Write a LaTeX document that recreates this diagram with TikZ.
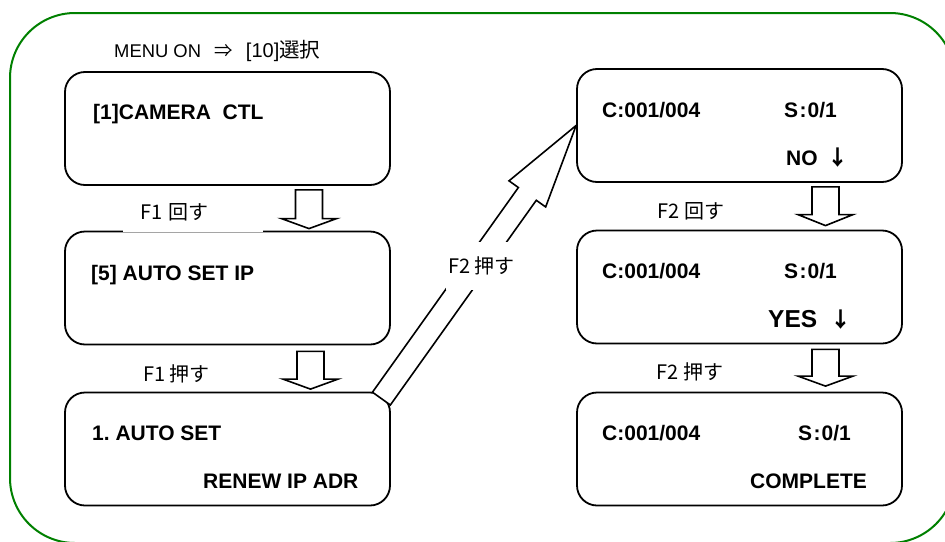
\documentclass[tikz,border=0pt]{standalone}
\usepackage{fontspec}
\setmainfont{Liberation Sans}
\newfontfamily\jpfont{Noto Sans CJK JP}
\usetikzlibrary{calc}
\frenchspacing
\definecolor{framegreen}{RGB}{0,128,0}
\tikzset{
  every picture/.append style={line cap=round,line join=round},
  lcd frame/.style={draw=framegreen,line width=2pt,rounded corners=65pt},
  lcd box/.style={draw,line width=1.8pt,rounded corners=20pt,minimum width=325pt,minimum height=113pt,inner sep=0pt},
  lcd text/.style={font=\fontsize{21pt}{24pt}\selectfont\bfseries,inner sep=0pt,anchor=base west},
  lcd big/.style={font=\fontsize{24.5pt}{28pt}\selectfont\bfseries,inner sep=0pt,anchor=base west},
  key label/.style={font=\jpfont\fontsize{20pt}{22pt}\selectfont,inner sep=0pt},
  menu label/.style={font=\fontsize{18.4pt}{21pt}\selectfont,inner sep=0pt,anchor=base west},
  block arrow/.style={draw,fill=white,line width=1.6pt,line join=miter}
}
\newcommand{\blockarrow}[5]{%
  \coordinate (ba-b) at ($(#2)!#5!(#1)$);
  \draw[block arrow] ($(#1)!#3!90:(#2)$) -- ($(ba-b)!#3!90:(#2)$) -- ($(ba-b)!#4!90:(#2)$)
    -- (#2) -- ($(ba-b)!#4!-90:(#2)$) -- ($(ba-b)!#3!-90:(#2)$) -- ($(#1)!#3!-90:(#2)$) -- cycle;}
\newcommand{\downmark}{{\jpfont\fontsize{21pt}{24pt}\selectfont ↓}}

\begin{document}
\begin{tikzpicture}[x=1pt, y=-1pt]
  \useasboundingbox (0,0) rectangle (945,541);
  \draw[lcd frame] (10,13) rectangle (955,543);

  \node[menu label] (menu) at (114,57) {MENU ON\hspace{13pt}{\jpfont ⇒}\hspace{13.5pt}{\fontsize{20pt}{22pt}\selectfont[10]{\jpfont\fontsize{20.5pt}{22pt}\selectfont 選択}}};

  \node[lcd box] (box1) at (227.5,128.5) {};
  \node[lcd box] (box2) at (227.5,288) {};
  \node[lcd box] (box3) at (227.5,449) {};
  \node[lcd box] (box4) at (739.5,125.5) {};
  \node[lcd box] (box5) at (739.5,287) {};
  \node[lcd box] (box6) at (739.5,449) {};

  \node[lcd text] (menu1) at (93,119) {[1]CAMERA\ \ CTL};
  \node[lcd text] (menu5) at (91,280) {[5] AUTO SET IP};
  \node[lcd text] (auto) at (92,440) {1. AUTO SET};
  \node[lcd text] (renew) at (203,488) {RENEW IP ADR};

  \node[lcd text] (cam4) at (602,117) {C:001/004};
  \node[lcd text] (st4) at (784,117) {S\hspace{1.5pt}:\hspace{1pt}0/1};
  \node[lcd text] (no) at (786,165) {NO\hspace{10pt}\downmark};
  \node[lcd text] (cam5) at (602,278) {C:001/004};
  \node[lcd text] (st5) at (784,278) {S\hspace{1.5pt}:\hspace{1pt}0/1};
  \node[lcd big] (yes) at (768,327) {YES\hspace{13pt}\downmark};
  \node[lcd text] (cam6) at (602,440) {C:001/004};
  \node[lcd text] (st6) at (798,440) {S\hspace{1.5pt}:\hspace{1pt}0/1};
  \node[lcd text] (done) at (750,488) {COMPLETE};

  \node[key label, fill=white, text width=106pt, inner xsep=17pt, minimum height=40pt, align=left] (f1turn) at (193,212.3) {F1 回す};
  \node[key label] (f1push) at (176.5,373.5) {F1 押す};
  \node[key label] (f2turn) at (691,211) {F2 回す};
  \node[key label] (f2push) at (690,372) {F2 押す};

  \coordinate (a1s) at ($(box1.south)+(81.5,4)$);
  \coordinate (a1e) at ($(a1s |- box2.north)+(0,-2)$);
  \blockarrow{a1s}{a1e}{13.5pt}{27.5pt}{10pt}
  \coordinate (a2s) at ($(box2.south)+(83,6)$);
  \coordinate (a2e) at ($(a2s |- box3.north)+(0,-2.5)$);
  \blockarrow{a2s}{a2e}{13.5pt}{27.5pt}{10pt}
  \coordinate (a3s) at ($(box4.south)+(86,4)$);
  \coordinate (a3e) at ($(a3s |- box5.north)+(0,-4)$);
  \blockarrow{a3s}{a3e}{13.5pt}{27.5pt}{11pt}
  \coordinate (a4s) at ($(box5.south)+(86,5)$);
  \coordinate (a4e) at ($(a4s |- box6.north)+(0,-5.5)$);
  \blockarrow{a4s}{a4e}{13.5pt}{27.5pt}{10pt}
  \coordinate (a5s) at ($(box3.north east)+(-9.5,7)$);
  \blockarrow{a5s}{box4.west}{11pt}{22.5pt}{84pt}

  \node[key label, fill=white, minimum height=48pt, inner xsep=2pt] (f2jump) at (481.5,266) {F2 押す};
\end{tikzpicture}
\end{document}
